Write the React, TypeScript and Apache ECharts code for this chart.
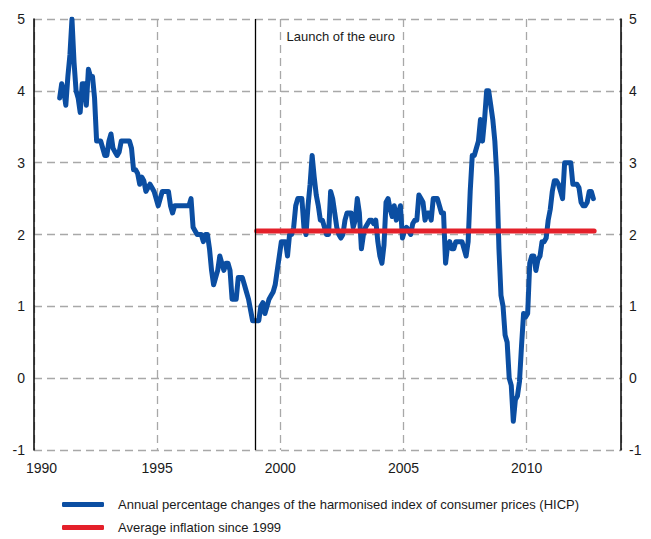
import React, { useEffect, useRef } from "react";
import * as echarts from "echarts";

// ---- data ----
const seriesNames = [
  "Annual percentage changes of the harmonised index of consumer prices (HICP)",
  "Average inflation since 1999",
];
const firstYear = 1991; // monthly observations from January 1991
// Annual HICP inflation (%), monthly, Jan 1991 .. Sep 2012
const hicpMonthly = [
  3.9, 4.1, 4.0, 3.8, 4.2, 4.5, 5.0, 4.4, 4.0, 3.9, 3.7, 4.1, // 1991
  4.1, 3.8, 4.3, 4.2, 4.2, 3.9, 3.3, 3.3, 3.3, 3.2, 3.1, 3.1, // 1992
  3.3, 3.4, 3.2, 3.15, 3.1, 3.15, 3.3, 3.3, 3.3, 3.3, 3.3, 3.2, // 1993
  2.9, 2.9, 2.85, 2.7, 2.8, 2.75, 2.6, 2.65, 2.7, 2.65, 2.6, 2.5, // 1994
  2.4, 2.5, 2.6, 2.6, 2.6, 2.6, 2.4, 2.3, 2.4, 2.4, 2.4, 2.4, // 1995
  2.4, 2.4, 2.4, 2.4, 2.5, 2.1, 2.05, 2.0, 2.0, 2.0, 1.9, 2.0, // 1996
  2.0, 1.8, 1.5, 1.3, 1.4, 1.5, 1.7, 1.6, 1.5, 1.6, 1.6, 1.5, // 1997
  1.1, 1.1, 1.1, 1.4, 1.4, 1.4, 1.3, 1.2, 1.1, 0.95, 0.8, 0.8, // 1998
  0.8, 0.8, 1.0, 1.05, 0.9, 1.0, 1.1, 1.15, 1.2, 1.3, 1.5, 1.7, // 1999
  1.9, 1.9, 1.9, 1.7, 2.0, 2.0, 2.1, 2.4, 2.5, 2.5, 2.5, 2.1, // 2000
  2.0, 2.4, 2.7, 3.1, 2.8, 2.55, 2.4, 2.2, 2.2, 2.1, 2.0, 2.0, // 2001
  2.6, 2.5, 2.3, 2.1, 2.0, 1.95, 2.0, 2.2, 2.3, 2.3, 2.3, 2.1, // 2002
  2.2, 2.5, 2.3, 1.8, 2.0, 2.1, 2.15, 2.2, 2.2, 2.15, 2.2, 1.9, // 2003
  1.7, 1.6, 1.85, 2.45, 2.5, 2.35, 2.25, 2.4, 2.2, 2.3, 2.4, 1.95, // 2004
  2.05, 2.1, 2.05, 2.0, 2.15, 2.2, 2.2, 2.55, 2.5, 2.45, 2.2, 2.3, // 2005
  2.3, 2.2, 2.5, 2.5, 2.5, 2.4, 2.3, 2.3, 1.6, 1.85, 1.9, 1.8, // 2006
  1.8, 1.9, 1.9, 1.9, 1.9, 1.8, 1.7, 1.9, 2.6, 3.1, 3.1, 3.2, // 2007
  3.3, 3.6, 3.3, 3.6, 4.0, 4.0, 3.8, 3.6, 3.3, 2.8, 1.8, 1.15, // 2008
  1.0, 0.6, 0.5, 0.0, -0.1, -0.6, -0.3, -0.25, -0.05, 0.45, 0.9, 0.85, // 2009
  0.9, 1.6, 1.7, 1.7, 1.5, 1.65, 1.7, 1.9, 1.9, 1.95, 2.2, 2.35, // 2010
  2.6, 2.75, 2.75, 2.7, 2.6, 2.5, 3.0, 3.0, 3.0, 3.0, 2.7, 2.7, // 2011
  2.7, 2.65, 2.45, 2.4, 2.4, 2.45, 2.6, 2.6, 2.5, // 2012
];
const averageSince1999 = 2.05;
const averagePeriod = [1999.04, 2012.74];
const euroLaunchYear = 1999;
const annotationText = "Launch of the euro";
const annotationPos = [2000.25, 4.75];
const xRange = [1990, 2013.83];
const yRange = [-1, 5];

const FONT = "'Liberation Sans', Arial, sans-serif";
const BLUE = "#0b4ea2";
const RED = "#e4202a";
const TEXT = "#1a1a1a";
const GRID = "#a8a8a8";

export default function App() {
  const ref = useRef<HTMLDivElement>(null);

  useEffect(() => {
    document.body.style.margin = "0";
    if (!ref.current) return;
    const chart = echarts.init(ref.current, null, { renderer: "svg" });

    const hicpData = hicpMonthly.map((v, i) => [firstYear + (i + 0.5) / 12, v]);
    const avgData = averagePeriod.map((x) => [x, averageSince1999]);

    const dashed = { color: GRID, width: 1.3, type: [8, 5] as any };

    const yAxisCommon = {
      type: "value",
      min: yRange[0],
      max: yRange[1],
      interval: 1,
      axisTick: { show: false },
      axisLine: { show: true, lineStyle: { color: "#000", width: 1.5 } },
    };

    const legendCommon = {
      orient: "vertical",
      left: 57,
      itemWidth: 42,
      itemHeight: 5,
      icon: "roundRect",
      selectedMode: false,
      textStyle: { fontSize: 13, fontFamily: FONT, color: TEXT, padding: [0, 0, 0, 9] },
    };

    chart.setOption({
      animation: false,
      backgroundColor: "#ffffff",
      textStyle: { fontFamily: FONT },
      grid: { left: 34, right: 30, top: 19, bottom: 89, containLabel: false },
      xAxis: {
        type: "value",
        min: xRange[0],
        max: xRange[1],
        interval: 5,
        axisLine: { show: false },
        axisTick: { show: false },
        axisLabel: {
          margin: 11,
          fontSize: 14,
          fontFamily: FONT,
          color: TEXT,
          showMaxLabel: false,
          formatter: (v: number) => {
            if (Math.abs(v % 5) > 1e-6) return "";
            return v === xRange[0] ? "{first|" + v + "}" : String(v);
          },
          rich: {
            first: { padding: [0, 0, 0, 15], fontSize: 14, fontFamily: FONT, color: TEXT },
          },
        },
        splitLine: { show: true, lineStyle: dashed },
      },
      yAxis: [
        {
          ...yAxisCommon,
          position: "left",
          axisLabel: { margin: 9, fontSize: 14, fontFamily: FONT, color: TEXT },
          splitLine: { show: true, lineStyle: dashed },
        },
        {
          ...yAxisCommon,
          position: "right",
          axisLabel: { margin: 8, fontSize: 14, fontFamily: FONT, color: TEXT },
          splitLine: { show: false },
        },
      ],
      legend: [
        { ...legendCommon, top: 493, data: [seriesNames[0]] },
        { ...legendCommon, top: 516, data: [seriesNames[1]] },
      ],
      series: [
        {
          name: seriesNames[0],
          type: "line",
          data: hicpData,
          showSymbol: false,
          symbol: "none",
          z: 3,
          itemStyle: { color: BLUE },
          lineStyle: { color: BLUE, width: 5, cap: "round", join: "round" },
          markLine: {
            silent: true,
            symbol: "none",
            animation: false,
            label: { show: false },
            lineStyle: { color: "#000", width: 1.3, type: "solid" },
            data: [{ xAxis: euroLaunchYear }],
          },
        },
        {
          name: seriesNames[1],
          type: "line",
          data: avgData,
          showSymbol: false,
          symbol: "none",
          z: 4,
          itemStyle: { color: RED },
          lineStyle: { color: RED, width: 5, cap: "round" },
        },
      ],
    });

    const p = chart.convertToPixel({ xAxisIndex: 0, yAxisIndex: 0 }, annotationPos) as number[];
    chart.setOption({
      graphic: [
        {
          type: "text",
          x: p[0],
          y: p[1],
          style: {
            text: annotationText,
            fontSize: 13,
            fontFamily: FONT,
            fill: TEXT,
            verticalAlign: "middle",
          },
        },
      ],
    });

    return () => chart.dispose();
  }, []);

  return <div ref={ref} style={{ width: 651, height: 539 }} />;
}
